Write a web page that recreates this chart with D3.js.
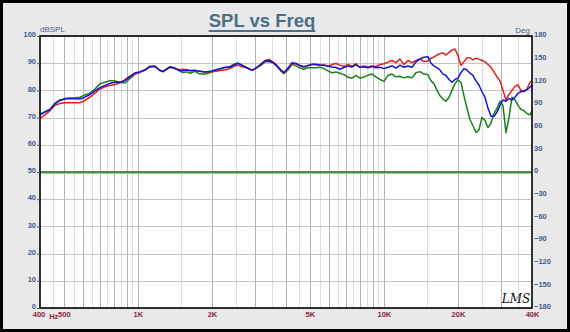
<!DOCTYPE html>
<html><head><meta charset="utf-8">
<script src="https://cdn.jsdelivr.net/npm/d3@7"></script>
<style>body{margin:0;padding:0;background:#fff}svg{display:block}</style>
</head><body>
<svg id="c" width="570" height="332"></svg>
<script>
// ---- data ----
const freqs = [400,419,439,460,482,505,530,555,582,609,639,669,701,735,770,807,846,886,928,973,1019,
  1068,1119,1173,1229,
  1265,1313,1351,1415,1483,1525,1583,1628,1706,1788,1874,1963,2057,2156,2259,2367,2481,
  2551,2649,2750,2854,2936,3048,3164,3285,3410,3540,3675,3815,3926,
  4075,4231,4392,4560,4733,4914,5101,5296,5498,5707,5925,6151,6386,6629,6882,7144,7417,7700,7993,8298,8617,8946,9287,9641,10009,
  10390,10787,11198,11625,12068,12528,13006,13502,14017,14552,15106,
  15537,15979,16435,16907,17389,17881,18390,18914,19454,20008,20574,21162,21764,22385,23022,23673,24349,25043,25756,26486,27252,28027,28826,29648,30477,31349,32242,33162,34098,35073,36072,37101,38150,39258,
  40000];
const redDb = [69.7,71.0,72.5,74.5,75.2,75.5,75.5,75.5,75.5,76.3,77.5,79.0,80.5,81.3,81.8,82.2,82.8,84.0,85.3,86.0,86.6,
  87.5,88.7,88.8,87.5,
  86.9,87.8,88.5,88.0,87.6,87.8,87.5,87.2,87.2,87.0,86.8,86.8,87.0,87.3,87.5,88.0,89.0,
  89.3,88.7,88.4,87.8,87.5,88.4,89.8,91.0,91.4,90.5,89.2,87.5,86.5,
  88.0,89.8,89.8,89.0,88.6,89.1,89.5,89.4,89.2,89.5,88.8,89.5,89.9,89.3,88.8,89.6,88.8,89.8,88.5,89.0,88.6,89.0,88.8,89.5,89.8,
  90.4,91.0,90.2,91.5,89.5,91.0,90.2,91.0,91.6,90.6,90.8,
  91.8,92.3,93.0,93.5,93.8,93.0,94.0,94.8,95.2,92.8,89.2,90.5,92.0,92.0,91.2,91.8,91.5,91.0,90.5,89.5,88.5,86.8,85.0,83.5,80.0,76.5,78.5,80.0,81.5,82.0,80.0,79.5,80.5,83.0,
  83.5];
const blueDb = [71.0,72.0,73.0,75.0,76.3,76.8,77.0,76.9,76.8,77.5,78.5,79.8,81.0,81.8,82.6,83.0,83.0,83.6,85.0,86.5,86.8,
  87.5,88.7,88.9,87.3,
  86.9,87.9,88.6,88.0,87.3,87.2,87.5,87.3,87.4,87.0,86.8,87.0,87.5,88.0,88.5,88.5,89.5,
  90.0,89.2,88.5,87.7,87.5,88.5,89.5,90.8,91.0,90.2,89.0,87.5,86.5,
  88.2,90.2,89.9,89.2,88.7,89.2,89.6,89.6,89.3,89.2,89.0,88.6,88.4,87.8,88.4,89.0,88.6,89.5,88.5,88.7,88.3,88.8,88.3,88.5,88.0,
  88.5,89.0,88.2,89.3,88.5,89.0,88.5,90.5,91.6,92.2,92.4,
  90.0,89.0,88.4,87.5,86.0,85.5,84.0,83.0,84.0,84.5,86.5,88.0,87.5,86.3,85.5,83.5,82.0,79.5,77.5,73.5,70.5,70.5,72.0,74.5,76.5,76.0,77.0,76.5,77.5,78.9,79.5,79.8,80.3,81.2,
  82.0];
const greenDb = [71.3,72.2,73.0,75.3,76.5,77.0,77.2,77.3,77.5,78.3,79.0,80.5,82.4,83.0,83.6,83.5,83.0,82.7,84.3,86.0,86.8,
  87.5,88.9,88.9,87.3,
  86.9,88.0,88.7,88.3,87.0,86.6,86.8,86.3,87.0,86.0,86.0,86.5,87.2,87.8,88.3,88.8,89.8,
  90.0,89.4,88.5,87.7,87.5,88.5,89.2,90.5,90.6,90.2,88.9,87.0,86.2,
  87.5,89.6,89.0,88.2,87.8,88.4,88.3,88.3,88.5,88.0,87.2,86.5,86.8,86.3,85.8,84.8,84.5,85.5,84.5,84.9,85.6,86.0,85.0,84.0,83.3,
  85.5,86.0,85.0,85.2,84.6,85.0,84.6,86.5,86.9,86.0,85.8,
  83.5,82.5,80.0,78.0,76.8,76.0,77.5,80.0,82.5,83.8,83.0,78.0,73.5,69.3,67.0,64.5,65.5,70.0,69.0,66.3,68.0,71.5,73.5,76.0,74.5,64.5,70.0,77.5,76.5,74.5,73.0,72.5,71.5,71.0,
  72.5];
const dbTicks = [0,10,20,30,40,50,60,70,80,90,100];
const degTicks = [-180,-150,-120,-90,-60,-30,0,30,60,90,120,150,180];
const freqLabels = [[400,"400"],[500,"500"],[1000,"1K"],[2000,"2K"],[5000,"5K"],[10000,"10K"],[20000,"20K"],[40000,"40K"]];
const majorFreqs = [500,600,700,800,900,1000,2000,3000,4000,5000,6000,7000,8000,9000,10000,20000,30000];
const minorFreqs = [450,550,650,750,850,950,1500,2500,3500,4500,5500,6500,7500,8500,9500,15000,25000,35000];

// ---- drawing ----
const svg = d3.select("#c");
const L=40,R=532,T=36,B=308;
const x = d3.scaleLog().domain([400,40000]).range([L,R]);
const y = d3.scaleLinear().domain([0,100]).range([B,T]);
const yd = d3.scaleLinear().domain([-180,180]).range([B,T]);

svg.append("rect").attr("x",1.5).attr("y",1.5).attr("width",567).attr("height",329)
  .attr("fill","#e9e9e9").attr("stroke","#000").attr("stroke-width",3);
svg.append("rect").attr("x",L).attr("y",T).attr("width",R-L).attr("height",B-T).attr("fill","#fff");

const g = svg.append("g");
g.selectAll("line.mi").data(minorFreqs).join("line").attr("x1",d=>Math.round(x(d))+0.5).attr("x2",d=>Math.round(x(d))+0.5)
  .attr("y1",T).attr("y2",B).attr("stroke","#dedede").attr("stroke-width",1);
g.selectAll("line.ma").data(majorFreqs).join("line").attr("x1",d=>Math.round(x(d))+0.5).attr("x2",d=>Math.round(x(d))+0.5)
  .attr("y1",T).attr("y2",B).attr("stroke","#b4b4b4").attr("stroke-width",1);
g.selectAll("line.h").data(dbTicks).join("line").attr("x1",L).attr("x2",R)
  .attr("y1",d=>Math.round(y(d))+0.5).attr("y2",d=>Math.round(y(d))+0.5).attr("stroke","#c4c4c4").attr("stroke-width",1);

// 50 dB / 0 deg reference line
svg.append("line").attr("x1",L).attr("x2",R).attr("y1",y(50)+1.5).attr("y2",y(50)+1.5).attr("stroke","#9ad49a").attr("stroke-width",1);
svg.append("line").attr("x1",L).attr("x2",R).attr("y1",y(50)).attr("y2",y(50)).attr("stroke","#1e6b1e").attr("stroke-width",1.6);

const line = d3.line().x((d,i)=>x(freqs[i])).y(d=>y(d));
[[greenDb,"#1a7f1a"],[redDb,"#e41c1c"],[blueDb,"#1414d2"]].forEach(([s,c])=>{
  svg.append("path").attr("d",line(s)).attr("fill","none").attr("stroke",c).attr("stroke-width",1.5).attr("stroke-linejoin","round");
});

svg.append("rect").attr("x",L).attr("y",T).attr("width",R-L).attr("height",B-T)
  .attr("fill","none").attr("stroke","#000").attr("stroke-width",1.6);

// axes
const font = "'Liberation Sans', Arial, sans-serif";
const ax = svg.append("g").attr("transform",`translate(${L},0)`)
  .call(d3.axisLeft(y).tickValues(dbTicks).tickSize(3).tickPadding(1).tickFormat(d3.format("d")));
ax.select(".domain").remove();
ax.selectAll("line").attr("stroke","#555");
ax.selectAll("text").attr("dy","0.1em").attr("font-family",font).attr("font-size","7.5px").attr("font-weight","bold").attr("fill","#3f5c8c");

const ar = svg.append("g").attr("transform",`translate(${R},0)`)
  .call(d3.axisRight(yd).tickValues(degTicks).tickSize(0).tickPadding(2).tickFormat(d3.format("d")));
ar.select(".domain").remove();
ar.selectAll("text").attr("dy","0.1em").attr("font-family",font).attr("font-size","7.5px").attr("font-weight","bold").attr("fill","#3f5c8c");

const ab = svg.append("g").attr("transform",`translate(0,${B})`)
  .call(d3.axisBottom(x).tickValues(freqLabels.map(d=>d[0])).tickSize(0).tickPadding(4)
    .tickFormat(d=>freqLabels.find(e=>e[0]===d)[1]));
ab.select(".domain").remove();
ab.selectAll("text").attr("font-family",font).attr("font-size","7.5px").attr("font-weight","bold").attr("fill","#8c1d40");
ab.selectAll(".tick").filter(d=>d===400).select("text").attr("dx","-1.5");

svg.append("text").attr("x",x(500)-5.5).attr("y",B+11.2).attr("text-anchor","end").attr("font-family",font)
  .attr("font-size","7.5px").attr("font-weight","bold").attr("fill","#8c1d40").text("Hz");
svg.append("text").attr("x",L).attr("y",T-4).attr("font-family",font).attr("font-size","8px").attr("fill","#4a5f85").text("dBSPL");
svg.append("text").attr("x",R-2).attr("y",T-3).attr("text-anchor","end").attr("font-family",font).attr("font-size","8px").attr("fill","#4a5f85").text("Deg");

// title
const title = svg.append("text").attr("x",262).attr("y",27).attr("text-anchor","middle").attr("font-family",font)
  .attr("font-size","18.5px").attr("font-weight","bold").attr("fill","#4d6f86").text("SPL vs Freq");
const bb = title.node().getBBox();
svg.append("rect").attr("x",bb.x).attr("y",30).attr("width",bb.width).attr("height",2).attr("fill","#4d6f86");

// logo
svg.append("text").attr("x",516).attr("y",303).attr("text-anchor","middle").attr("font-family","'DejaVu Serif', serif")
  .attr("font-style","italic").attr("font-size","12px").attr("fill","#111").text("LMS");
</script>
</body></html>
